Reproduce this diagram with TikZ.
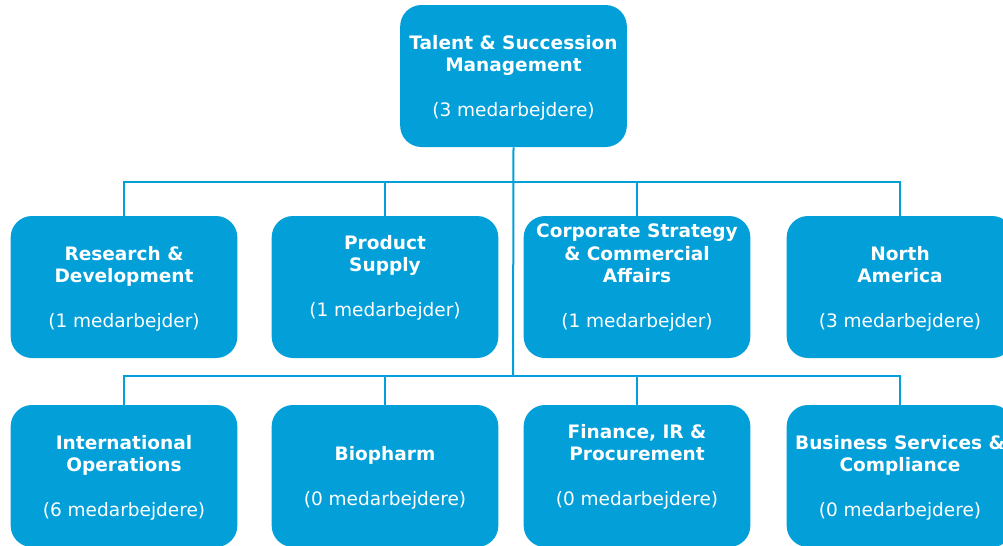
\documentclass[tikz,border=0pt]{standalone}
\usepackage{fontspec}
\setmainfont{DejaVu Sans}
\usepackage{tikz}
\definecolor{orgblue}{RGB}{2,159,217}

\begin{document}
\begin{tikzpicture}[x=0.75pt, y=-0.75pt,
    unit/.style={rectangle, rounded corners=16pt, fill=orgblue, text=white,
      minimum width=170pt, minimum height=106.5pt, inner sep=0pt, align=center,
      text depth=0pt, font=\fontsize{13.9}{16.8}\selectfont},
    link/.style={draw=orgblue, line width=1.5pt}]
  % Page frame, right and bottom boxes run off the edge
  \clip (0,0) rectangle (1003,546);
  % Head of the unit
  \node[unit] (tsm) at (513.5,76) {\textbf{Talent \& Succession}\\\textbf{Management}\\[16.8pt](3 medarbejdere)};
  % First row
  \node[unit] (rd) at (124,287) {\textbf{Research \&}\\\textbf{Development}\\[16.8pt](1 medarbejder)};
  \node[unit] (ps) at (385,287) {\textbf{Product}\\\textbf{Supply}\\[16.8pt](1 medarbejder)\\\mbox{}};
  \node[unit] (csa) at (637,287) {\textbf{Corporate Strategy}\\\textbf{\& Commercial}\\\textbf{Affairs}\\[16.8pt](1 medarbejder)\\\mbox{}};
  \node[unit] (na) at (900,287) {\textbf{North}\\\textbf{America}\\[16.8pt](3 medarbejdere)};
  % Second row
  \node[unit] (io) at (124,476) {\textbf{International}\\\textbf{Operations}\\[16.8pt](6 medarbejdere)};
  \node[unit] (bio) at (385,476) {\textbf{Biopharm}\\[16.8pt](0 medarbejdere)};
  \node[unit] (fin) at (637,476) {\textbf{Finance, IR \&}\\\textbf{Procurement}\\[16.8pt](0 medarbejdere)\\\mbox{}};
  \node[unit] (bsc) at (900,476) {\textbf{Business Services \&}\\\textbf{Compliance}\\[16.8pt](0 medarbejdere)};
  % Bus lines
  \coordinate (busA) at (513,182);
  \coordinate (busB) at (513,376);
  \draw[link] (tsm.south) -- (busB);
  \draw[link] (rd.north) |- (busA) -| (na.north);
  \draw[link] (ps.north) -- (ps.north |- busA);
  \draw[link] (csa.north) -- (csa.north |- busA);
  \draw[link] (io.north) |- (busB) -| (bsc.north);
  \draw[link] (bio.north) -- (bio.north |- busB);
  \draw[link] (fin.north) -- (fin.north |- busB);
\end{tikzpicture}
\end{document}
